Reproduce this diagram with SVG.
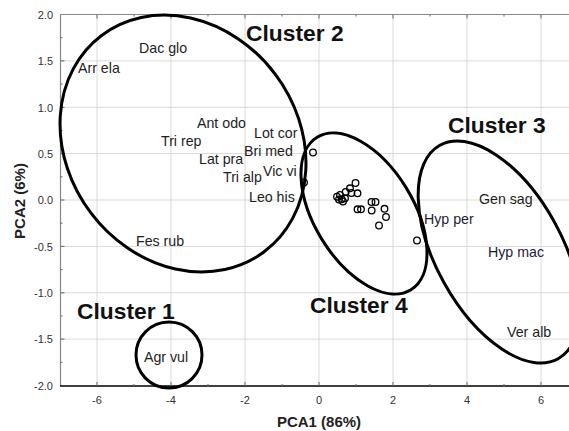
<svg xmlns="http://www.w3.org/2000/svg" width="569" height="431" viewBox="0 0 569 431">
<style>
.grid{stroke:#d9d9d9;stroke-width:1;fill:none}
.tick{stroke:#666;stroke-width:1}
.tl{font-family:"Liberation Sans",Arial,sans-serif;font-size:11px;fill:#333}
.ax{font-family:"Liberation Sans",Arial,sans-serif;font-size:15px;font-weight:bold;fill:#222}
.cl{font-family:"Liberation Sans",Arial,sans-serif;font-size:22.8px;font-weight:bold;fill:#111}
.sp{font-family:"Liberation Sans",Arial,sans-serif;font-size:14.2px;fill:#1e1e1e}
.ell{fill:none;stroke:#000;stroke-width:3}
.pt{fill:none;stroke:#000;stroke-width:1.3}
</style>
<rect width="569" height="431" fill="#fff"/>
<g id="grid">
<path class="grid" d="M97 14.5V386M171 14.5V386M245 14.5V386M319 14.5V386M393 14.5V386M467 14.5V386M541 14.5V386"/>
<path class="grid" d="M60 60.9H569M60 107.3H569M60 153.6H569M60 200H569M60 246.4H569M60 292.8H569M60 339.1H569"/>
</g>
<g id="axes">
<line x1="60" y1="14.5" x2="569" y2="14.5" stroke="#888" stroke-width="1.2"/>
<line x1="60.5" y1="14.5" x2="60.5" y2="386" stroke="#888" stroke-width="1.2"/>
<line x1="60" y1="386" x2="569" y2="386" stroke="#000" stroke-width="1.6"/>
<path class="tick" d="M97 386v-4M171 386v-4M245 386v-4M319 386v-4M393 386v-4M467 386v-4M541 386v-4M134 386v-2M208 386v-2M282 386v-2M356 386v-2M430 386v-2M504 386v-2"/>
<path class="tick" d="M97 14.5v4M171 14.5v4M245 14.5v4M319 14.5v4M393 14.5v4M467 14.5v4M541 14.5v4M134 14.5v2M208 14.5v2M282 14.5v2M356 14.5v2M430 14.5v2M504 14.5v2"/>
<path class="tick" d="M60.5 60.9h4M60.5 107.3h4M60.5 153.6h4M60.5 200h4M60.5 246.4h4M60.5 292.8h4M60.5 339.1h4M60.5 37.7h2M60.5 84.1h2M60.5 130.4h2M60.5 176.8h2M60.5 223.2h2M60.5 269.6h2M60.5 315.9h2M60.5 362.3h2"/>
<g class="tl" text-anchor="end">
<text x="53" y="19">2.0</text>
<text x="53" y="65">1.5</text>
<text x="53" y="111.5">1.0</text>
<text x="53" y="158">0.5</text>
<text x="53" y="204">0.0</text>
<text x="53" y="250.5">-0.5</text>
<text x="53" y="297">-1.0</text>
<text x="53" y="343">-1.5</text>
<text x="53" y="390">-2.0</text>
</g>
<g class="tl" text-anchor="middle">
<text x="97" y="404">-6</text>
<text x="171" y="404">-4</text>
<text x="245" y="404">-2</text>
<text x="319" y="404">0</text>
<text x="393" y="404">2</text>
<text x="467" y="404">4</text>
<text x="541" y="404">6</text>
</g>
<text class="ax" x="319" y="427" text-anchor="middle">PCA1 (86%)</text>
<text class="ax" x="25" y="201" text-anchor="middle" transform="rotate(-90 25 201)">PCA2 (6%)</text>
</g>
<g id="points">
<circle class="pt" cx="313" cy="152.5" r="3.3"/>
<circle class="pt" cx="304" cy="182.5" r="3.3"/>
<circle class="pt" cx="355.5" cy="183" r="3.3"/>
<circle class="pt" cx="350" cy="188.3" r="3.3"/>
<circle class="pt" cx="357.5" cy="193.3" r="3.3"/>
<circle class="pt" cx="351.5" cy="193" r="3.3"/>
<circle class="pt" cx="345.7" cy="192" r="3.3"/>
<circle class="pt" cx="340" cy="195" r="3.3"/>
<circle class="pt" cx="337" cy="196.7" r="3.3"/>
<circle class="pt" cx="341.7" cy="199.3" r="3.3"/>
<circle class="pt" cx="345" cy="198.3" r="3.3"/>
<circle class="pt" cx="339" cy="199.5" r="3.3"/>
<circle class="pt" cx="343" cy="201.5" r="3.3"/>
<circle class="pt" cx="357.5" cy="209.3" r="3.3"/>
<circle class="pt" cx="361" cy="209.3" r="3.3"/>
<circle class="pt" cx="371.5" cy="202" r="3.3"/>
<circle class="pt" cx="375.5" cy="202" r="3.3"/>
<circle class="pt" cx="371.7" cy="210.5" r="3.3"/>
<circle class="pt" cx="384.5" cy="208.8" r="3.3"/>
<circle class="pt" cx="386" cy="217" r="3.3"/>
<circle class="pt" cx="379" cy="225.5" r="3.3"/>
<circle class="pt" cx="417" cy="240.5" r="3.3"/>
</g>
<g id="cluster1">
<circle class="ell" cx="169" cy="355" r="33"/>
<text class="cl" x="77" y="319">Cluster 1</text>
</g>
<g id="cluster2">
<ellipse class="ell" cx="183" cy="143.5" rx="135.3" ry="115.4" transform="rotate(53 183 143.5)"/>
<text class="cl" x="246" y="41">Cluster 2</text>
</g>
<g id="cluster3">
<ellipse class="ell" cx="499" cy="252" rx="122" ry="63" transform="rotate(61 499 252)"/>
<text class="cl" x="448" y="133">Cluster 3</text>
</g>
<g id="cluster4">
<ellipse class="ell" cx="364" cy="213.5" rx="89.5" ry="49.4" transform="rotate(58.4 364 213.5)"/>
<text class="cl" x="310" y="313">Cluster 4</text>
</g>
<g id="labels" class="sp">
<g id="dac-glo"><text x="139" y="53">Dac glo</text></g>
<g id="arr-ela"><text x="78" y="73">Arr ela</text></g>
<g id="ant-odo"><text x="197" y="128">Ant odo</text></g>
<g id="tri-rep"><text x="161" y="146">Tri rep</text></g>
<g id="lot-cor"><text x="254" y="138">Lot cor</text></g>
<g id="bri-med"><text x="244" y="156">Bri med</text></g>
<g id="lat-pra"><text x="199" y="164">Lat pra</text></g>
<g id="tri-alp"><text x="223" y="182">Tri alp</text></g>
<g id="vic-vi"><text x="263" y="176">Vic vi</text></g>
<g id="leo-his"><text x="249" y="202">Leo his</text></g>
<g id="fes-rub"><text x="136" y="246">Fes rub</text></g>
<g id="agr-vul"><text x="144" y="362">Agr vul</text></g>
<g id="hyp-per"><text x="424" y="224" fill="#1c1c3a">Hyp per</text></g>
<g id="gen-sag"><text x="479" y="204">Gen sag</text></g>
<g id="hyp-mac"><text x="488" y="257" fill="#1c1c3a">Hyp mac</text></g>
<g id="ver-alb"><text x="507" y="337">Ver alb</text></g>
</g>
</svg>
